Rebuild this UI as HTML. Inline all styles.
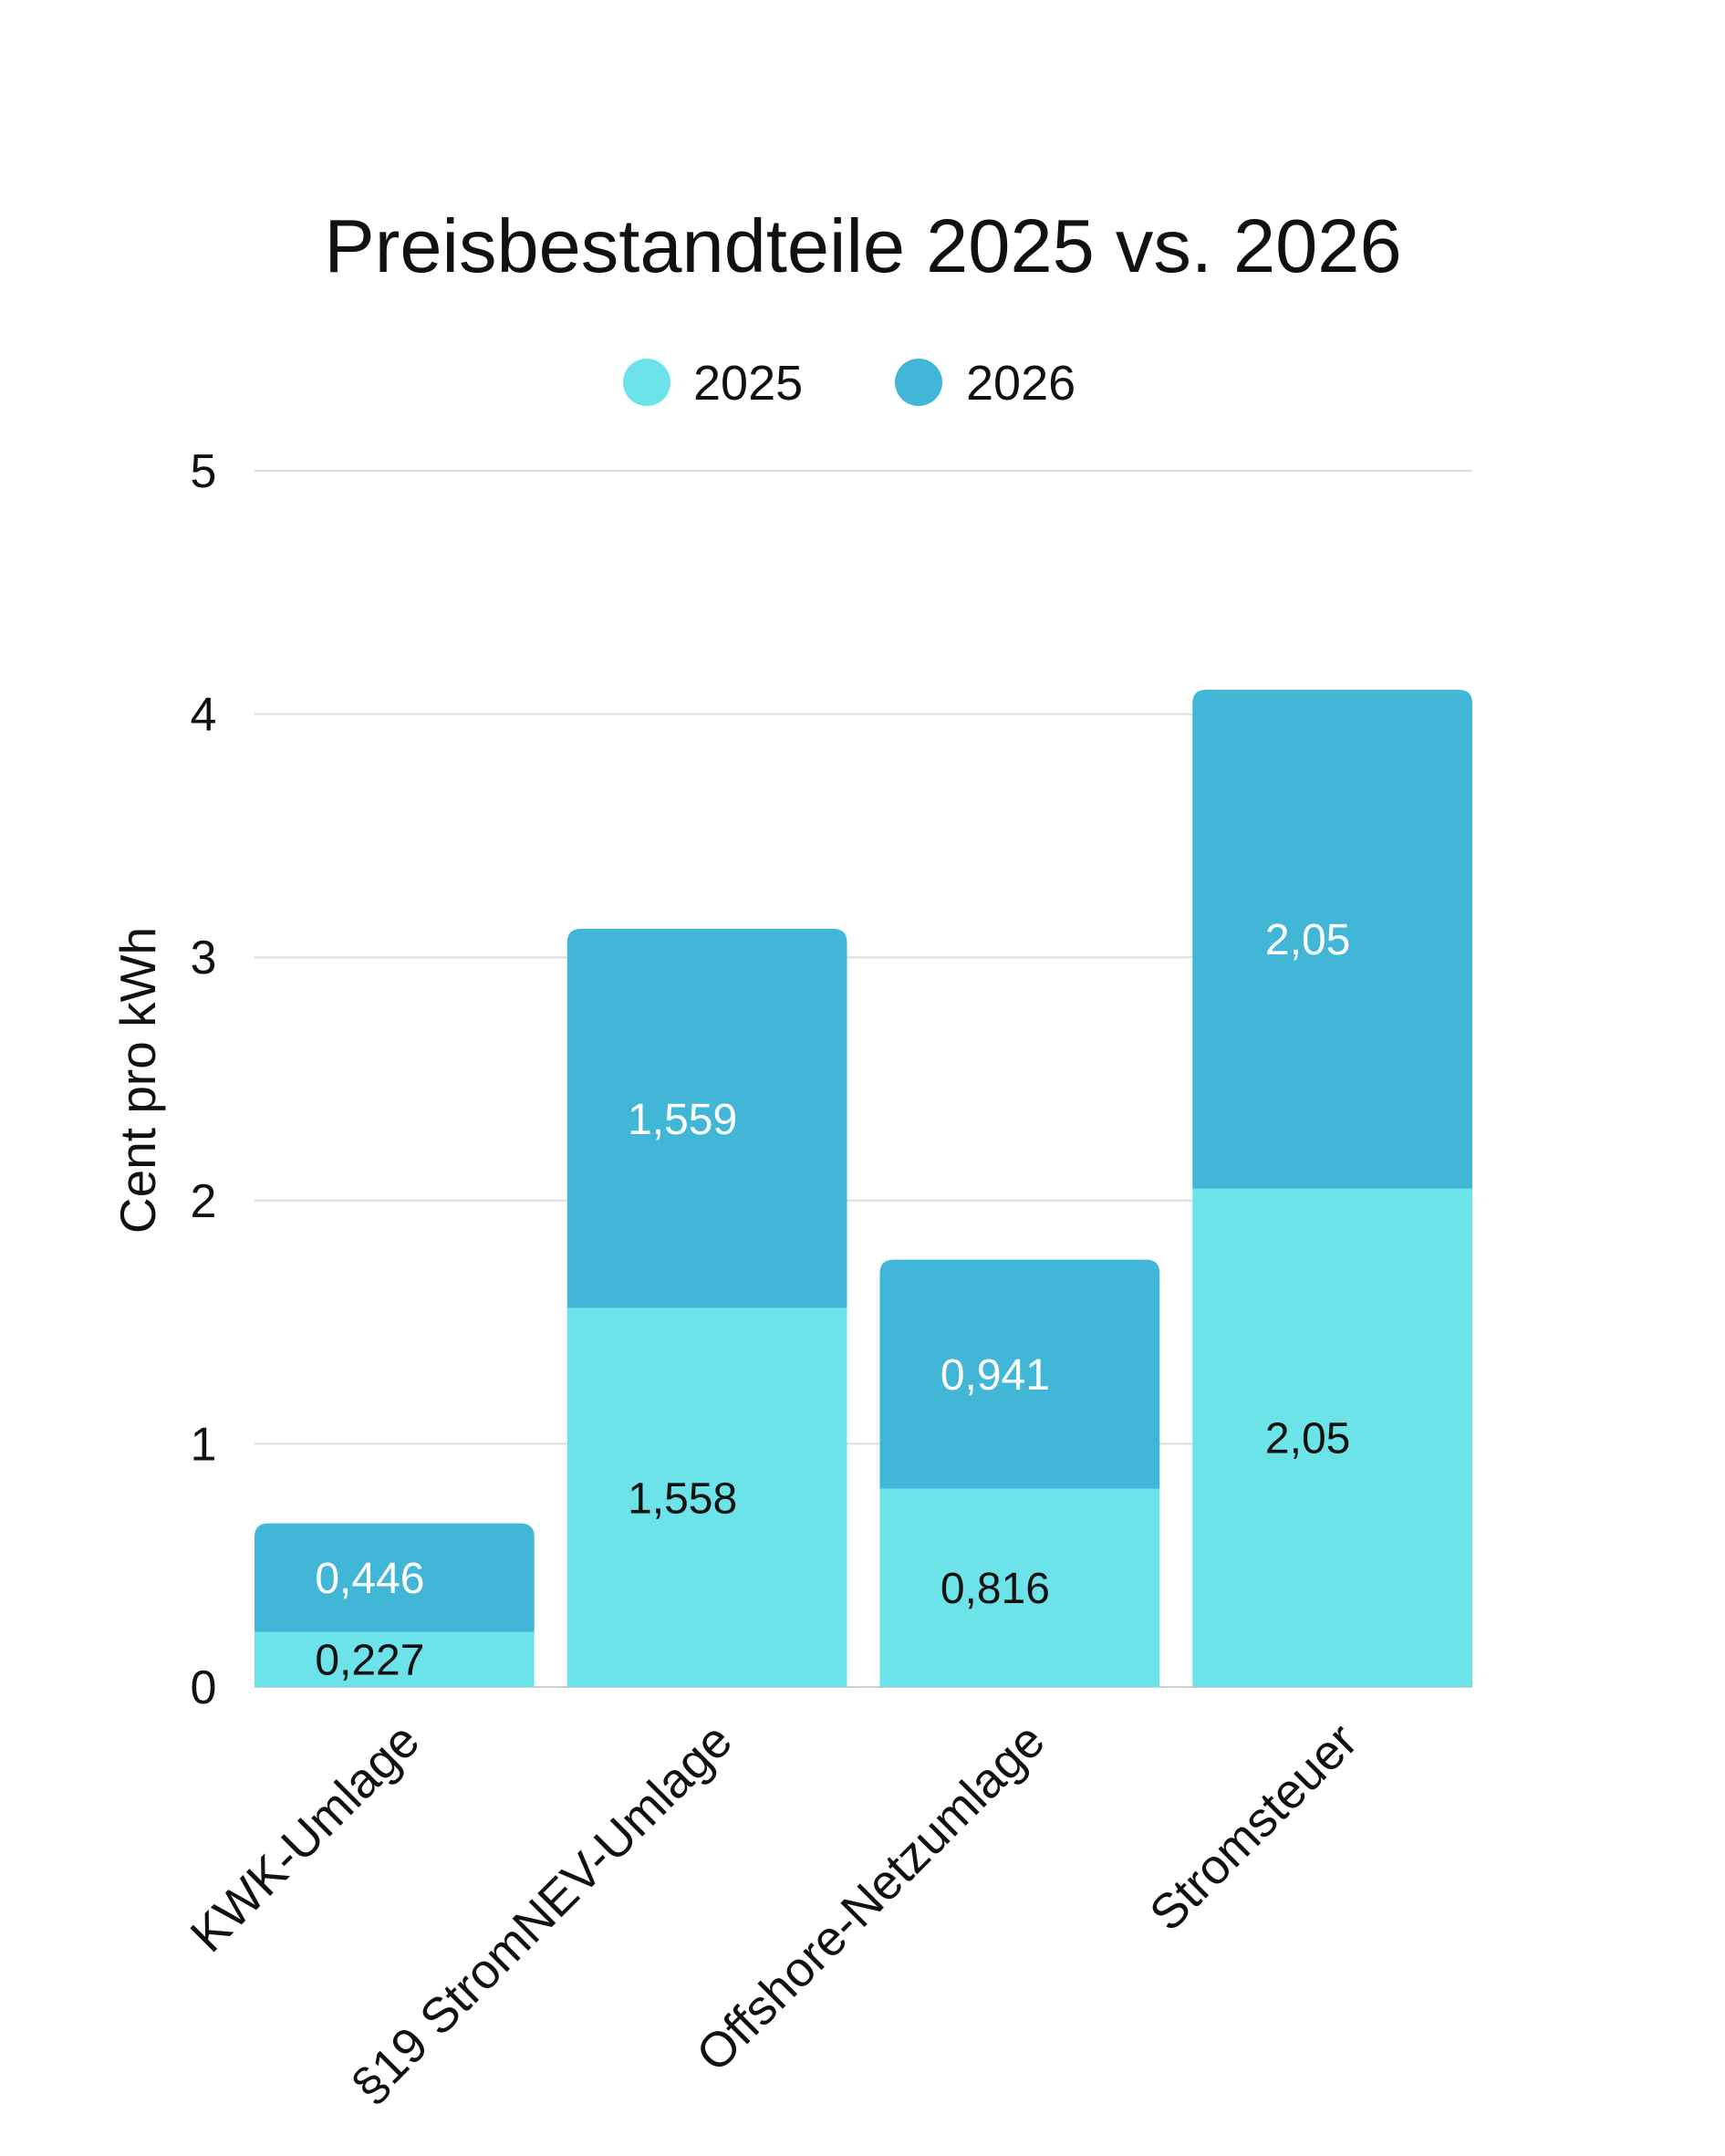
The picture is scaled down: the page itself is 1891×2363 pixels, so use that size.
<!DOCTYPE html>
<html><head><meta charset="utf-8"><style>
body{margin:0;background:#fff}
svg{display:block;font-family:"Liberation Sans",sans-serif}
</style></head><body>
<svg id="chart" width="1891" height="2363" viewBox="0 0 1891 2363">
<text x="946" y="298" font-size="83" text-anchor="middle" fill="#111">Preisbestandteile 2025 vs. 2026</text>
<g>
<g><circle cx="709" cy="419" r="26" fill="#6BE3E8"/><text x="760" y="438" font-size="54" fill="#111">2025</text></g>
<g><circle cx="1007" cy="419" r="26" fill="#42B6D6"/><text x="1059" y="438" font-size="54" fill="#111">2026</text></g>
</g>
<text transform="translate(170,1184) rotate(-90)" font-size="55" text-anchor="middle" fill="#111">Cent pro kWh</text>
<g id="grid"></g><g id="bars"></g><g id="labels"></g>
</svg>
<script>
const categories = ["KWK-Umlage","§19 StromNEV-Umlage","Offshore-Netzumlage","Stromsteuer"];
const values2025 = [0.227,1.558,0.816,2.05];
const values2026 = [0.446,1.559,0.941,2.05];
const labels2025 = ["0,227","1,558","0,816","2,05"];
const labels2026 = ["0,446","1,559","0,941","2,05"];
const yTicks = [0,1,2,3,4,5];

const NS="http://www.w3.org/2000/svg";
const L=279,R=1614,T=516,B=1849,yMax=5;
const y=v=>B-(v/yMax)*(B-T);
const gap=36, bw=(R-L-gap*(categories.length-1))/categories.length;
const x=i=>L+i*(bw+gap);
function mk(t,a,p){const e=document.createElementNS(NS,t);for(const k in a)e.setAttribute(k,a[k]);p.appendChild(e);return e;}
const grid=document.getElementById('grid'),bars=document.getElementById('bars'),lab=document.getElementById('labels');
yTicks.forEach(v=>{
  const ln=mk('line',{x1:L,x2:R,y1:y(v),y2:y(v),stroke:v===0?'#cfcfcf':'#dddddd','stroke-width':2},grid);
  
  
  const t=mk('text',{x:223,y:y(v)+18,'font-size':52,'text-anchor':'middle',fill:'#111'},grid);
  t.textContent=v;
  
  
});
categories.forEach((c,i)=>{
  const x0=x(i),a=values2025[i],b=values2026[i],r=15;
  const y0=y(0),y1=y(a),y2=y(a+b);
  const r1=mk('rect',{x:x0,y:y1,width:bw,height:y0-y1,fill:'#6BE3E8'},bars);
  
  
  const p=mk('path',{d:`M${x0},${y1}V${y2+r}Q${x0},${y2} ${x0+r},${y2}H${x0+bw-r}Q${x0+bw},${y2} ${x0+bw},${y2+r}V${y1}Z`,fill:'#42B6D6'},bars);
  
  
  const cx=x0+bw/2-27;
  const t1=mk('text',{x:cx,y:(y0+y1)/2+17,'font-size':48,'text-anchor':'middle',fill:'#111'},lab);
  t1.textContent=labels2025[i];
  
  
  const t2=mk('text',{x:cx,y:(y1+y2)/2+17,'font-size':48,'text-anchor':'middle',fill:'#fff'},lab);
  t2.textContent=labels2026[i];
  
  
  const xl=mk('text',{transform:`translate(${x0+bw/2+17},${1898}) rotate(-45)`,'font-size':54,'text-anchor':'end',fill:'#111',dy:'0.35em'},lab);
  xl.textContent=c;
  
  
});
</script>
</body></html>
